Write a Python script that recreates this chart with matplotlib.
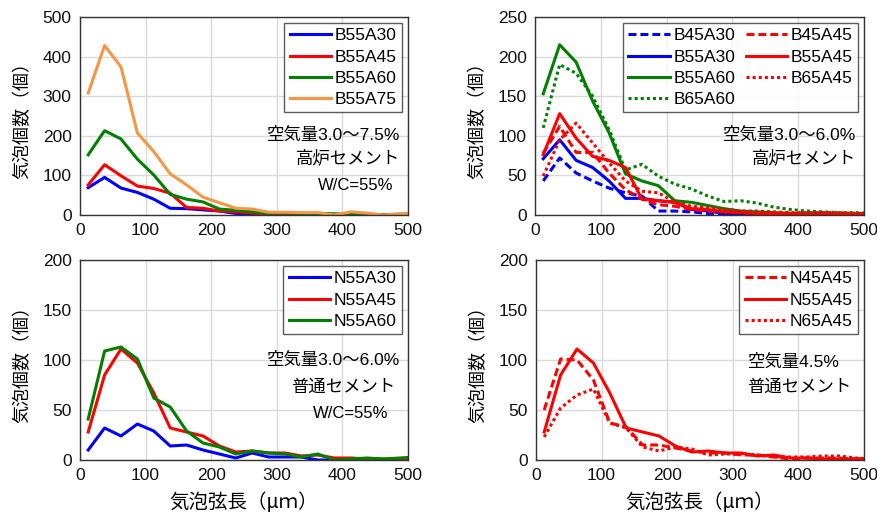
import matplotlib
matplotlib.use("Agg")
import matplotlib.pyplot as plt

plt.rcParams['font.family'] = ['Liberation Sans', 'Noto Sans CJK JP', 'DejaVu Sans']

x = [12.5, 37.5, 62.5, 87.5, 112.5, 137.5, 162.5, 187.5, 212.5, 237.5, 262.5,
     287.5, 312.5, 337.5, 362.5, 387.5, 412.5, 437.5, 462.5, 487.5, 512.5]

# top-left (B55 series)
B55A30 = [69, 95, 68, 57, 40, 17, 16, 13, 10, 4, 3, 2, 1, 1, 1, 1, 0, 0, 0, 0, 0]
B55A45 = [76, 127, 99, 73, 67, 55, 19, 17, 10, 8, 5, 3, 2, 2, 1, 1, 1, 1, 0, 0, 0]
B55A60 = [152, 213, 192, 141, 101, 52, 40, 33, 15, 12, 8, 4, 5, 4, 4, 3, 2, 1, 1, 2, 0]
B55A75 = [308, 428, 374, 207, 160, 104, 76, 45, 31, 17, 15, 7, 7, 6, 6, 0, 8, 5, 0, 3, 5]

# top-right
B45A30 = [43, 72, 53, 43, 34, 28, 24, 5, 5, 4, 2, 1, 0, 0, 0, 0, 0, 0, 0, 0, 0]
B45A45 = [78, 112, 79, 79, 53, 32, 20, 13, 11, 7, 5, 4, 3, 2, 2, 1, 1, 1, 1, 1, 1]
B55A30b = [71, 95, 69, 60, 43, 21, 21, 18, 16, 7, 5, 2, 1, 1, 1, 1, 1, 1, 0, 0, 0]
B55A45b = [76, 128, 97, 74, 69, 60, 20, 18, 16, 8, 7, 4, 3, 2, 2, 2, 1, 1, 1, 1, 1]
B55A60b = [153, 215, 193, 144, 104, 52, 43, 37, 18, 16, 12, 8, 5, 4, 3, 2, 2, 2, 1, 1, 1]
B65A45 = [49, 95, 116, 91, 66, 43, 30, 28, 16, 11, 9, 7, 5, 5, 4, 3, 3, 3, 3, 2, 2]
B65A60 = [110, 190, 179, 150, 108, 57, 64, 49, 39, 33, 24, 17, 18, 15, 10, 7, 5, 4, 3, 3, 2]

# bottom-left
N55A30 = [10, 32, 24, 36, 29, 14, 15, 10, 6, 2, 7, 3, 3, 3, 0, 0, 0, 0, 0, 1, 1]
N55A45 = [28, 85, 111, 97, 67, 32, 28, 24, 14, 8, 9, 7, 7, 4, 5, 2, 2, 1, 1, 1, 2]
N55A60 = [41, 109, 113, 101, 62, 53, 29, 17, 13, 6, 9, 7, 6, 3, 6, 0, 1, 2, 1, 2, 3]

# bottom-right
N45A45 = [50, 101, 100, 80, 37, 33, 15, 15, 12, 9, 7, 7, 5, 5, 3, 1, 2, 2, 2, 1, 1]
N65A45 = [23, 52, 65, 71, 37, 32, 13, 9, 13, 11, 5, 6, 6, 5, 3, 3, 3, 4, 4, 2, 1]

BLUE, RED, GREEN, ORANGE = '#0000FF', '#FF0000', '#008000', '#F79646'
DASH = (0, (2.6, 1.3))
DOT = (0, (1, 1))
LW = 2.2

W, H = 878, 517
fig = plt.figure(figsize=(W / 100, H / 100), dpi=100)


def make_ax(l, r, t, b):
    return fig.add_axes([l / W, 1 - b / H, (r - l) / W, (b - t) / H])


def style(ax, ymax, ystep):
    ax.set_xlim(0, 500)
    ax.set_ylim(0, ymax)
    ax.set_xticks(range(0, 501, 100))
    ax.set_yticks(range(0, ymax + 1, ystep))
    ax.grid(True, color='#d9d9d9', lw=1.0)
    ax.set_axisbelow(True)
    ax.tick_params(length=0, labelsize=12.5, pad=6, colors='#111111')
    for s in ax.spines.values():
        s.set_color('#333333')
        s.set_linewidth(1.0)


def legend(ax, ncol=1, loc='upper right'):
    lg = ax.legend(loc=loc, ncol=ncol, fontsize=12.5, frameon=True, fancybox=False,
                   edgecolor='#333333', handlelength=2.4, handletextpad=0.2,
                   borderaxespad=0.35, labelspacing=0.35, columnspacing=0.6,
                   borderpad=0.3)
    lg.get_frame().set_linewidth(1.0)
    return lg


ylab = '気泡個数（個）'
xlab = '気泡弦長（μｍ）'
JP = ['Noto Sans CJK JP', 'DejaVu Sans']


def set_ylab(ax):
    ax.set_ylabel(ylab, fontsize=13, labelpad=8, family=JP)


def set_xlab(ax):
    ax.set_xlabel(xlab, fontsize=14, labelpad=6, family=JP)


# top-left
ax1 = make_ax(80, 408, 17, 215)
ax1.plot(x, B55A30, color=BLUE, lw=LW, label='B55A30')
ax1.plot(x, B55A45, color=RED, lw=LW, label='B55A45')
ax1.plot(x, B55A60, color=GREEN, lw=LW, label='B55A60')
ax1.plot(x, B55A75, color=ORANGE, lw=LW, label='B55A75')
style(ax1, 500, 100)
legend(ax1)
ax1.text(0.975, 0.405, '空気量3.0〜7.5%', transform=ax1.transAxes, ha='right', va='center', fontsize=12.5)
ax1.text(0.975, 0.29, '高炉セメント', transform=ax1.transAxes, ha='right', va='center', fontsize=12.5)
ax1.text(0.955, 0.15, 'W/C=55%', transform=ax1.transAxes, ha='right', va='center', fontsize=12)
set_ylab(ax1)

# top-right
ax2 = make_ax(535, 864, 17, 215)
ax2.plot(x, B45A30, color=BLUE, lw=LW, ls=DASH, label='B45A30')
ax2.plot(x, B55A30b, color=BLUE, lw=LW, label='B55A30')
ax2.plot(x, B55A60b, color=GREEN, lw=LW, label='B55A60')
ax2.plot(x, B65A60, color=GREEN, lw=LW, ls=DOT, label='B65A60')
ax2.plot(x, B45A45, color=RED, lw=LW, ls=DASH, label='B45A45')
ax2.plot(x, B55A45b, color=RED, lw=LW, label='B55A45')
ax2.plot(x, B65A45, color=RED, lw=LW, ls=DOT, label='B65A45')
style(ax2, 250, 50)
legend(ax2, ncol=2)
ax2.text(0.975, 0.405, '空気量3.0〜6.0%', transform=ax2.transAxes, ha='right', va='center', fontsize=12.5)
ax2.text(0.975, 0.29, '高炉セメント', transform=ax2.transAxes, ha='right', va='center', fontsize=12.5)
set_ylab(ax2)

# bottom-left
ax3 = make_ax(80, 408, 260, 460)
ax3.plot(x, N55A30, color=BLUE, lw=LW, label='N55A30')
ax3.plot(x, N55A45, color=RED, lw=LW, label='N55A45')
ax3.plot(x, N55A60, color=GREEN, lw=LW, label='N55A60')
style(ax3, 200, 50)
legend(ax3)
ax3.text(0.975, 0.5, '空気量3.0〜6.0%', transform=ax3.transAxes, ha='right', va='center', fontsize=12.5)
ax3.text(0.96, 0.365, '普通セメント', transform=ax3.transAxes, ha='right', va='center', fontsize=12.5)
ax3.text(0.94, 0.235, 'W/C=55%', transform=ax3.transAxes, ha='right', va='center', fontsize=12)
set_ylab(ax3)
set_xlab(ax3)

# bottom-right
ax4 = make_ax(536, 864, 260, 460)
ax4.plot(x, N45A45, color=RED, lw=LW, ls=DASH, label='N45A45')
ax4.plot(x, N55A45, color=RED, lw=LW, label='N55A45')
ax4.plot(x, N65A45, color=RED, lw=LW, ls=DOT, label='N65A45')
style(ax4, 200, 50)
legend(ax4)
ax4.text(0.645, 0.49, '空気量4.5%', transform=ax4.transAxes, ha='left', va='center', fontsize=12.5)
ax4.text(0.645, 0.365, '普通セメント', transform=ax4.transAxes, ha='left', va='center', fontsize=12.5)
set_ylab(ax4)
set_xlab(ax4)

fig.savefig('out.png', dpi=100)
